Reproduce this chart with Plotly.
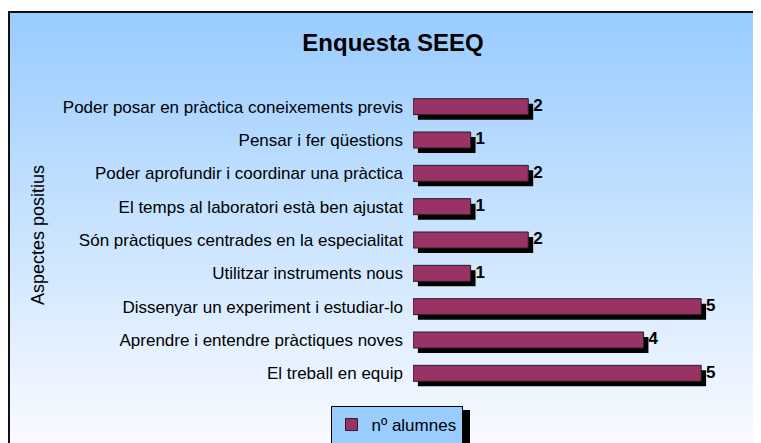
import plotly.graph_objects as go

# -----------------------------
# Data
# -----------------------------
aspectes = [
    "Poder posar en pràctica coneixements previs",
    "Pensar i fer qüestions",
    "Poder aprofundir i coordinar una pràctica",
    "El temps al laboratori està ben ajustat",
    "Són pràctiques centrades en la especialitat",
    "Utilitzar instruments nous",
    "Dissenyar un experiment i estudiar-lo",
    "Aprendre i entendre pràctiques noves",
    "El treball en equip",
]
alumnes = [2, 1, 2, 1, 2, 1, 5, 4, 5]

# -----------------------------
# Geometry helpers (screen pixels -> paper)
# page body has an 8px margin, so the figure starts at (8, 8)
# -----------------------------
OFF = 8
W, H = 753, 435
L, R, T, B = 405, 31, 82, 53
PW, PH = W - L - R, H - T - B


def px(x):
    return (x - OFF - L) / PW


def py(y):
    return (H - B - (y - OFF)) / PH


BAR_W = 0.48
SHADOW_DY = 0.15   # category units
SHADOW_DX = 0.085  # value units
FACE = "#993366"

fig = go.Figure()

# shadow behind each bar
fig.add_trace(
    go.Bar(
        y=aspectes,
        x=alumnes,
        base=SHADOW_DX,
        orientation="h",
        width=BAR_W,
        offset=-BAR_W / 2 + SHADOW_DY,
        marker=dict(color="black", line=dict(width=0)),
        showlegend=False,
        hoverinfo="skip",
    )
)

# bar faces
fig.add_trace(
    go.Bar(
        y=aspectes,
        x=alumnes,
        orientation="h",
        width=BAR_W,
        offset=-BAR_W / 2,
        marker=dict(color=FACE, line=dict(color="#222222", width=1)),
        name="nº alumnes",
    )
)

# value labels
fig.add_trace(
    go.Scatter(
        y=aspectes,
        x=[v + SHADOW_DX for v in alumnes],
        mode="text",
        text=[str(v) for v in alumnes],
        textposition="middle right",
        textfont=dict(size=17, color="black", family="Liberation Sans, Arial",
                      weight="bold"),
        showlegend=False,
        hoverinfo="skip",
    )
)

# -----------------------------
# Background gradient + frame
# -----------------------------
shapes = []
top_px, bot_px = 11, 450
n = 60
c0 = (153, 204, 255)
c1 = (250, 251, 255)
for i in range(n):
    f = i / (n - 1)
    col = tuple(round(c0[k] + (c1[k] - c0[k]) * f) for k in range(3))
    y0 = top_px + (bot_px - top_px) * i / n
    y1 = top_px + (bot_px - top_px) * (i + 1) / n + 1
    shapes.append(dict(
        type="rect", xref="paper", yref="paper", layer="below",
        x0=px(8), x1=px(775), y0=py(y0), y1=py(y1),
        fillcolor="rgb(%d,%d,%d)" % col, line=dict(width=0),
    ))
# frame: only left and top edges are inside the picture
shapes.append(dict(
    type="line", xref="paper", yref="paper", layer="below",
    x0=px(9), x1=px(9), y0=py(11), y1=py(460),
    line=dict(color="#111111", width=2),
))
shapes.append(dict(
    type="line", xref="paper", yref="paper", layer="below",
    x0=px(8), x1=px(780), y0=py(12), y1=py(12),
    line=dict(color="#111111", width=2),
))
# legend shadow
shapes.append(dict(
    type="rect", xref="paper", yref="paper", layer="above",
    x0=px(331), x1=px(470), y0=py(410), y1=py(460),
    fillcolor="black", line=dict(width=0),
))

fig.update_layout(
    width=W,
    height=H,
    margin=dict(l=L, r=R, t=T, b=B, autoexpand=False),
    paper_bgcolor="white",
    plot_bgcolor="rgba(0,0,0,0)",
    font=dict(family="Liberation Sans, Arial", color="black"),
    barmode="overlay",
    title=dict(
        text="<b>Enquesta SEEQ</b>",
        font=dict(size=24),
        x=(393 - OFF) / W, xref="container", xanchor="center",
        y=1 - (43 - OFF) / H, yref="container", yanchor="middle",
    ),
    xaxis=dict(
        range=[0, 5.5],
        showticklabels=False, showgrid=False, zeroline=False,
        showline=False, fixedrange=True,
    ),
    yaxis=dict(
        categoryorder="array", categoryarray=aspectes,
        autorange="reversed",
        showgrid=False, zeroline=False, showline=False,
        ticks="", ticklabelstandoff=9,
        tickfont=dict(size=17),
    ),
    legend=dict(
        orientation="h",
        x=px(396.5), xanchor="center",
        y=py(406), yanchor="top",
        bgcolor="#99CCFF",
        bordercolor="black", borderwidth=1,
        font=dict(size=17),
        itemwidth=30,
    ),
    shapes=shapes,
    annotations=[dict(
        text="Aspectes positius",
        xref="paper", yref="paper",
        x=px(38), y=py(235),
        xanchor="center", yanchor="middle",
        showarrow=False, textangle=-90,
        font=dict(size=18),
    )],
)

fig.write_html("out.html")
